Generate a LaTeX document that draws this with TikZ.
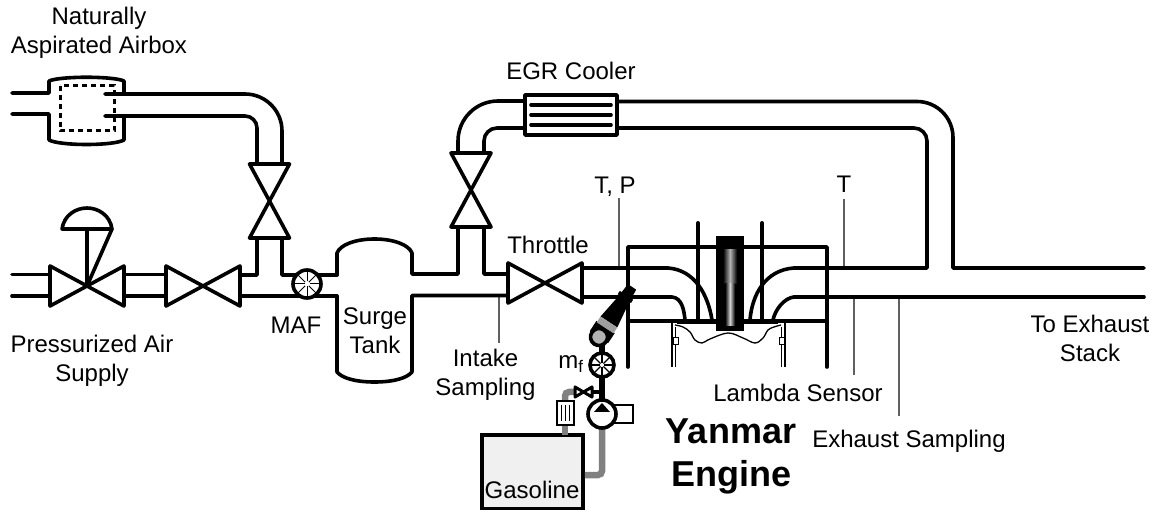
\documentclass[tikz,border=0pt]{standalone}
\usepackage{fontspec}
\setmainfont{Liberation Sans}
\definecolor{fuelgray}{HTML}{808080}
\definecolor{tankfill}{HTML}{F0F0F0}
\definecolor{leadergray}{HTML}{606060}
\tikzset{
  pipe/.style={line width=3.6pt, line join=round, line cap=round},
  fuelpipe/.style={line width=6.5pt, color=fuelgray, rounded corners=4pt},
  fuelblack/.style={line width=6pt, color=black},
  leader/.style={line width=1.2pt, color=leadergray},
  lbl/.style={anchor=base, inner sep=0pt, align=center, font=\fontsize{24}{29}\selectfont},
  lblbig/.style={lbl, font=\fontsize{36}{43}\selectfont\bfseries},
  meter/.style={circle, draw, line width=3.6pt, fill=white, inner sep=0pt, minimum size=27pt},
}
\begin{document}
\begin{tikzpicture}[x=1pt, y=-1pt]
    \useasboundingbox (0,0) rectangle (1165,510);

    % labels
    \node[lbl] (airbox) at (99,54) {Naturally\\Aspirated Airbox};
    \node[lbl] (supply) at (92,382) {Pressurized Air\\Supply};
    \node[lbl] (maflabel) at (296,334) {MAF};
    \node[lbl] (surge) at (375,354) {Surge\\Tank};
    \node[lbl] (intake) at (485.5,396) {Intake\\Sampling};
    \node[lbl] (throttle) at (548,254) {Throttle};
    \node[lbl] (egr) at (571,80) {EGR Cooler};
    \node[lbl] (tp) at (615,194) {T, P};
    \node[lbl] (texh) at (844,193) {T};
    \node[lbl] (lambda) at (798,402) {Lambda Sensor};
    \node[lbl] (exsamp) at (909,448) {Exhaust Sampling};
    \node[lbl] (stack) at (1090,362) {To Exhaust\\Stack};
    \node[lbl] (mf) at (571,369) {m\textsubscript{f}};
    \node[lblbig] (yanmar) at (731,486) {Yanmar\\Engine};

    % sampling leaders
    \coordinate (tpport) at (619,268);
    \coordinate (texhport) at (844,268);
    \coordinate (intakeport) at (499,296);
    \coordinate (lambdaport) at (854,297);
    \coordinate (exsampport) at (899,297);
    \draw[leader] (tpport) -- (619,198);
    \draw[leader] (texhport) -- (844,199);
    \draw[leader] (intakeport) -- (499,343);
    \draw[leader] (lambdaport) -- (854,375);
    \draw[leader] (exsampport) -- (899,416);

    % airbox
    \draw[pipe] (12,93) -- (49,93) -- (49,81) .. controls (60,76) and (113,76) .. (124,81) -- (124,93);
    \draw[pipe] (12,114) -- (49,114) -- (49,140) .. controls (60,146) and (113,146) .. (124,140) -- (124,116);
    \draw[line width=3pt, dash pattern=on 5pt off 4pt] (60,86) rectangle (114,131);
    \draw[pipe, rounded corners=37pt] (105,94) -- (282,94) -- (282,164);
    \draw[pipe, rounded corners=12pt] (105,116) -- (257,116) -- (257,164);

    % supply line
    \draw[pipe] (12,274.5) -- (50,274.5);
    \draw[pipe] (12,296) -- (50,296);
    \draw[pipe] (124,274.5) -- (166,274.5);
    \draw[pipe] (124,296) -- (166,296);
    \draw[pipe] (240,275) -- (257,275) -- (257,238);
    \draw[pipe] (282,238) -- (282,275) -- (337,275);
    \draw[pipe] (240,296) -- (337,296);

    % valves, horizontal then vertical
    \foreach \cx/\cy in {87/286, 203/286, 545/283}
        \draw[pipe] (\cx-37,\cy-20) -- (\cx+37,\cy+20) -- (\cx+37,\cy-20) -- (\cx-37,\cy+20) -- cycle;
    \foreach \cx/\cy in {269.5/201, 471/190}
        \draw[pipe] (\cx-20,\cy-37) -- (\cx+20,\cy-37) -- (\cx-20,\cy+37) -- (\cx+20,\cy+37) -- cycle;

    % regulator
    \draw[pipe] (62,229) .. controls (64,215) and (76,208) .. (87,208) .. controls (98,208) and (110,215) .. (112,229) -- cycle;
    \draw[pipe] (87,229) -- (87,286) -- (112,229);

    % mass air flow meter
    \node[meter, minimum size=28pt] (maf) at (307,284) {};
    \foreach \ang in {0,45,...,315}
        \draw[line width=1pt] (maf.center) ++(\ang:2.5) -- ++(\ang:10);

    % surge tank
    \draw[pipe] (337,275) -- (337,253) .. controls (340,245) and (355,239) .. (374.5,239) .. controls (394,239) and (409,245) .. (412,253) -- (412,274) -- (458,274) -- (458,227);
    \draw[pipe] (337,296) -- (337,372) .. controls (342,378) and (355,382) .. (374.5,382) .. controls (394,382) and (407,378) .. (412,372) -- (412,295.5) -- (508,295.5);
    \draw[pipe] (484,227) -- (484,274) -- (508,274);

    % EGR loop
    \draw[pipe, rounded corners=40pt] (458,153) -- (458,101) -- (525,101);
    \draw[pipe, rounded corners=13pt] (484,153) -- (484,128) -- (525,128);
    \draw[pipe] (525,95) rectangle (617,135);
    \foreach \ly in {105,115,125}
        \draw[pipe] (531,\ly) -- (611,\ly);
    \draw[pipe] (617,101.5) [rounded corners=36pt] -- (953,101.5) [sharp corners] -- (953,268) -- (1144,268);
    \draw[pipe] (617,128) [rounded corners=13pt] -- (927,128) [sharp corners] -- (927,268) -- (794,268);
    \draw[pipe] (794,297) -- (1144,297);

    % engine block
    \draw[pipe] (628,367) -- (628,247) -- (827,247) -- (827,367);
    \draw[pipe] (628,321) -- (827,321);
    \draw[line width=5.5pt] (677,321.5) -- (778,321.5);
    \draw[line width=2pt] (672,322) -- (672,367);
    \draw[line width=2pt] (785,322) -- (785,367);
    \draw[line width=1.5pt] (675.5,327) -- (675.5,367);
    \draw[line width=1.5pt] (781.5,327) -- (781.5,367);
    \draw[line width=1pt, fill=white] (673,338) rectangle (678,345);
    \draw[line width=1pt, fill=white] (779,338) rectangle (784,345);
    \draw[line width=1.3pt] plot[smooth, tension=0.6] coordinates {(675,325) (683,327) (690,332) (695,340) (702,343) (710,339) (728,333) (743,338) (755,343) (763,338) (768,330) (774,327) (781,325)};

    % intake and exhaust ports
    \draw[pipe] (582,268) -- (668,268) .. controls (695,270) and (708,295) .. (712,320);
    \draw[pipe] (582,297) -- (672,297) .. controls (682,298) and (684,310) .. (685,320);
    \draw[pipe] (794,268) .. controls (765,270) and (752,295) .. (750,320);
    \draw[pipe] (794,297) .. controls (784,298) and (775,310) .. (773,320);
    \draw[line width=4pt, line cap=round] (698,223) -- (698,321);
    \draw[line width=4pt, line cap=round] (762,223) -- (762,321);

    % spark plug
    \fill[black] (716,236) rectangle (744,331);
    \shade[left color=black, right color=black, middle color=gray!60] (723,250) rectangle (737,284);
    \shade[left color=black, right color=black, middle color=gray!35] (725,284) rectangle (735,326);

    % injector
    \begin{scope}[shift={(599,337)}, rotate=56.6]
        \fill[black, line join=round] (0,-11) -- (12,-11) -- (12,11) -- (0,11) -- cycle;
        \fill[black, line join=round] (18,-10) -- (18,10) -- (46,6) -- (60,5) -- (60,-5) -- (46,-6) -- cycle;
        \fill[gray!75] (11,-10) rectangle (18,10);
        \fill[black] (46,-8) rectangle (50,8);
        \draw[line width=3.6pt, fill=gray!60] (0,0) circle (8.5);
    \end{scope}

    % fuel system
    \node[draw, fill=tankfill, line width=3.6pt, inner sep=0pt, minimum width=101pt, minimum height=74pt] (tank) at (532.5,472) {};
    \node[lbl] (gasoline) at (532,498) {Gasoline};
    \draw[fuelpipe] (602,429) -- (602,475) -- (tank.east |- 602,475);
    \draw[fuelpipe] (575,392) -- (565,392) -- (565,401);
    \draw[fuelpipe, rounded corners=0pt] (565,425) -- (565,435);
    \node[draw, fill=white, line width=2pt, inner sep=0pt, minimum width=17pt, minimum height=24pt] (filter) at (565.5,413) {};
    \foreach \fx in {561.5,565.5,569.5}
        \draw[line width=1.5pt] (\fx,405) -- (\fx,421);
    \draw[fuelblack] (602,345) -- (602,402);
    \draw[line width=4.5pt] (592,392) -- (602,392);
    \draw[line width=3pt, line join=round] (575,387) -- (592,397) -- (592,387) -- (575,397) -- cycle;
    \draw[line width=1.8pt, fill=white] (612,405) rectangle (633,423);
    \node[meter, minimum size=28pt] (pump) at (602,414) {};
    \fill[black] (602,403) -- (610,412) -- (594,412) -- cycle;
    \node[meter, minimum size=24pt] (mfmeter) at (602,365) {};
    \foreach \ang in {0,45,...,315}
        \draw[line width=1.4pt] (mfmeter.center) ++(\ang:2) -- ++(\ang:9);
\end{tikzpicture}
\end{document}
